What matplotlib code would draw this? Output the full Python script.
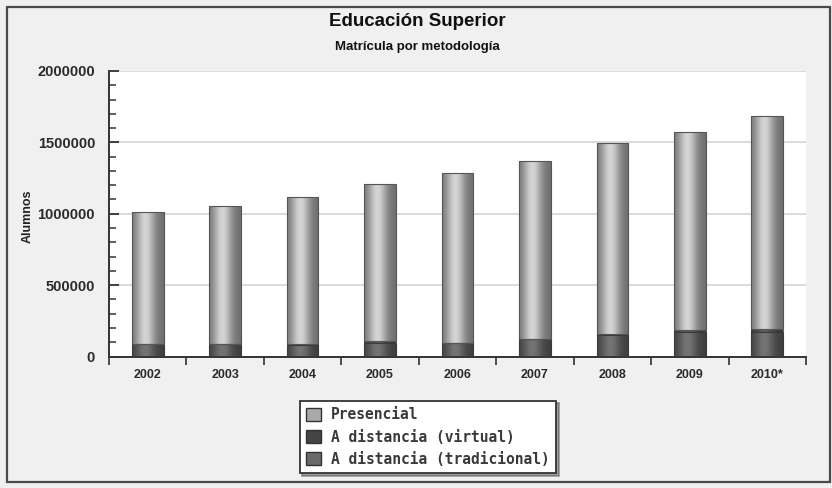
import numpy as np
import matplotlib.pyplot as plt
from matplotlib.patches import Rectangle
from matplotlib.colors import LinearSegmentedColormap

# Matricula en educacion superior por metodologia
years = ["2002", "2003", "2004", "2005", "2006", "2007", "2008", "2009", "2010*"]
tradicional = [85000, 84500, 84000, 98000, 95000, 121000, 148000, 169000, 172000]
virtual = [1000, 1500, 2000, 9000, 3000, 5000, 8000, 14000, 20000]
presencial = [923000, 971000, 1029000, 1100000, 1190000, 1241000, 1337000, 1393000, 1493000]

series_names = ["Presencial", "A distancia (virtual)", "A distancia (tradicional)"]
y_ticks = [0, 500000, 1000000, 1500000, 2000000]

W, H = 832, 488


def shade(ax, patches, edge, mid):
    # cylinder-like horizontal shading clipped to each bar
    cmap = LinearSegmentedColormap.from_list("cyl", [edge, mid])
    xs = np.linspace(0, 1, 80)
    prof = np.exp(-((xs - 0.42) / 0.3) ** 2)
    img = np.tile(prof, (2, 1))
    for p in patches:
        x0, y0 = p.get_x(), p.get_y()
        w, h = p.get_width(), p.get_height()
        im = ax.imshow(img, cmap=cmap, vmin=0, vmax=1, extent=(x0, x0 + w, y0, y0 + h),
                       aspect="auto", origin="lower", zorder=2.5, interpolation="bilinear")
        im.set_clip_path(p)


def main():
    fig = plt.figure(figsize=(W / 100, H / 100), dpi=100)
    fig.patch.set_facecolor("#f0f0f0")
    fig.patches.append(Rectangle((7 / W, 1 - 482 / H), 823 / W, 475 / H,
                                 transform=fig.transFigure, fill=False,
                                 ec="#4a4a4a", lw=1.6))

    ax = fig.add_axes([109 / W, 1 - 356.5 / H, 697 / W, 285.5 / H])
    ax.set_facecolor("white")

    x = np.arange(len(years))
    bw = 0.41
    trad = np.array(tradicional)
    virt = np.array(virtual)
    pres = np.array(presencial)

    b1 = ax.bar(x, trad, bw, color="#5a5a5a", zorder=2)
    b2 = ax.bar(x, virt, bw, bottom=trad, color="#444444", zorder=2)
    b3 = ax.bar(x, pres, bw, bottom=trad + virt, color="#aaaaaa", zorder=2)
    shade(ax, b1, "#3e3e3e", "#747474")
    shade(ax, b2, "#363636", "#5e5e5e")
    shade(ax, b3, "#6e6e6e", "#d4d4d4")
    # outlines
    ax.bar(x, trad, bw, fill=False, ec="#3a3a3a", lw=0.8, zorder=3)
    ax.bar(x, virt, bw, bottom=trad, fill=False, ec="#3a3a3a", lw=0.5, zorder=3)
    ax.bar(x, pres, bw, bottom=trad + virt, fill=False, ec="#555555", lw=0.8, zorder=3)

    ax.set_xlim(-0.5, len(years) - 0.5)
    ax.set_ylim(0, 2000000)

    # y axis
    ax.set_yticks(y_ticks)
    ax.set_yticklabels([str(t) for t in y_ticks], fontsize=10.5, fontweight="bold",
                       family="Liberation Sans", color="#2a2a2a")
    ax.set_yticks(np.arange(0, 2000001, 100000), minor=True)
    ax.tick_params(axis="y", which="major", direction="in", length=7, width=1.3,
                   color="#333333", pad=10)
    ax.tick_params(axis="y", which="minor", direction="in", length=5, width=1.1,
                   color="#333333")
    ax.grid(axis="y", which="major", color="#d8d8d8", lw=1.3, zorder=0)
    ax.set_axisbelow(True)

    # x axis: ticks at category boundaries, labels at centres
    ax.set_xticks(np.arange(-0.5, len(years)), labels=[""] * (len(years) + 1))
    ax.set_xticks(x, labels=years, minor=True)
    ax.tick_params(axis="x", which="major", direction="out", length=6, width=1.2,
                   color="#333333")
    ax.tick_params(axis="x", which="minor", length=0, pad=9)
    for lab in ax.get_xticklabels(minor=True):
        lab.set_fontsize(9)
        lab.set_fontweight("bold")
        lab.set_family("Liberation Sans")
        lab.set_color("#2a2a2a")

    for s in ["top", "right"]:
        ax.spines[s].set_visible(False)
    ax.spines["left"].set_color("#333333")
    ax.spines["left"].set_linewidth(1.4)
    ax.spines["bottom"].set_color("#333333")
    ax.spines["bottom"].set_linewidth(1.4)

    fig.text(28 / W, 1 - 216 / H, "Alumnos", rotation=90, ha="center", va="center",
             fontsize=9, fontweight="bold", family="Liberation Sans", color="#222222")

    fig.text(417 / W, 1 - 21 / H, "Educación Superior", ha="center", va="center",
             fontsize=13.5, fontweight="bold", family="Liberation Sans", color="#111111")
    fig.text(417 / W, 1 - 47 / H, "Matrícula por metodología", ha="center", va="center",
             fontsize=9.5, fontweight="bold", family="Liberation Sans", color="#111111")

    handles = [
        Rectangle((0, 0), 1, 1, fc="#aaaaaa", ec="#333333", lw=1),
        Rectangle((0, 0), 1, 1, fc="#444444", ec="#333333", lw=1),
        Rectangle((0, 0), 1, 1, fc="#6a6a6a", ec="#333333", lw=1),
    ]
    leg = fig.legend(handles, series_names, loc="center",
                     bbox_to_anchor=(428 / W, 1 - 437 / H),
                     prop={"family": "DejaVu Sans Mono", "size": 10.5, "weight": "bold"},
                     frameon=True, fancybox=False, shadow=True,
                     handlelength=1.0, handleheight=1.0, handletextpad=0.7,
                     labelspacing=0.5, borderpad=0.45, borderaxespad=0)
    leg.get_frame().set_edgecolor("#333333")
    leg.get_frame().set_linewidth(1.3)
    leg.get_frame().set_facecolor("white")
    for t in leg.get_texts():
        t.set_color("#3a3a3a")

    fig.savefig("out.png", dpi=100, facecolor=fig.get_facecolor())
    plt.close(fig)


if __name__ == "__main__":
    main()
